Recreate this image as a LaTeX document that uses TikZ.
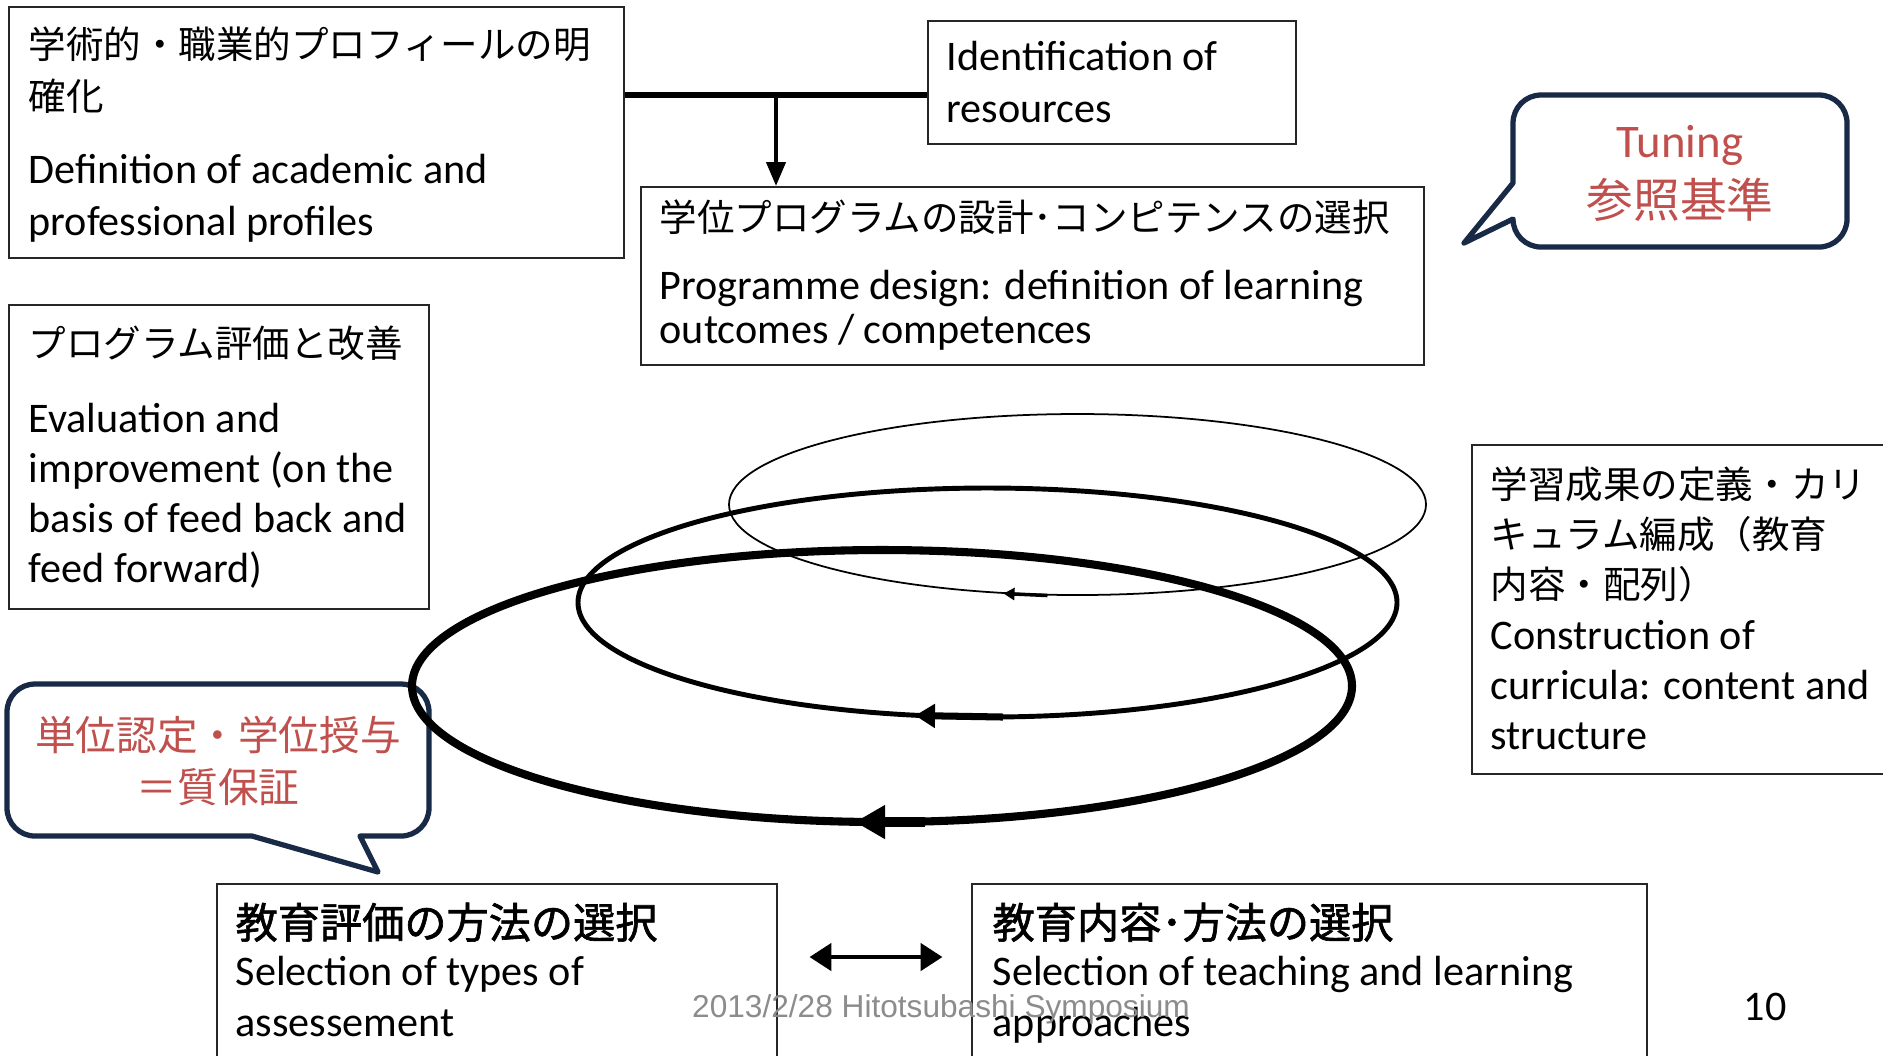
\documentclass[tikz,border=0pt]{standalone}
\usepackage{fontspec}
\setmainfont{Carlito}
\newfontfamily\jp[Scale=0.89]{Noto Sans CJK JP}
\newfontfamily\jpn[AutoFakeBold=1.5]{Noto Sans CJK JP}
\newfontfamily\footfont{Liberation Sans}
\usepackage{tikz}
\usetikzlibrary{calc,arrows.meta}

\definecolor{calloutblue}{RGB}{24,42,70}
\definecolor{calloutred}{RGB}{192,80,77}
\definecolor{footgray}{RGB}{140,140,140}

\begin{document}
\begin{tikzpicture}[>={Triangle},
  box/.style={draw=black!85,line width=0.7pt,fill=white,inner sep=0pt,anchor=north west},
  txt/.style={anchor=north west,inner sep=0pt,align=left,font=\fontsize{12}{14.8}\selectfont},
  callout/.style={draw=calloutblue,line width=1.5pt,fill=white,line join=round},
  redtxt/.style={text=calloutred,align=center,inner sep=0pt},
  ring/.style={line width=#1},
  feed/.style={line width=1.8pt},
  down/.style={line width=1.2pt,-{Triangle[length=0.24cm,width=0.19cm]}},
  pairarrow/.style={line width=1.4pt,{Triangle[length=0.22cm,width=0.27cm]}-{Triangle[length=0.22cm,width=0.27cm]}}]

	\useasboundingbox (0,0) rectangle (18.83,-10.55);
	\fill[white] (0,0) rectangle (18.83,-10.55);

	\node[box,minimum width=6.15cm,minimum height=2.51cm] (profile) at (0.08,-0.06) {};
	\node[box,minimum width=3.68cm,minimum height=1.23cm] (resources) at (9.27,-0.20) {};
	\node[box,minimum width=7.83cm,minimum height=1.78cm] (design) at (6.40,-1.86) {};
	\node[box,minimum width=4.20cm,minimum height=3.04cm] (review) at (0.08,-3.04) {};
	\node[box,minimum width=4.30cm,minimum height=3.29cm] (curricula) at (14.71,-4.44) {};
	\node[box,minimum width=5.60cm,minimum height=1.78cm] (assess) at (2.16,-8.83) {};
	\node[box,minimum width=6.75cm,minimum height=1.78cm] (teach) at (9.71,-8.83) {};

	\node[txt] (profiletxt) at ([shift={(0.20,-0.20)}]profile.north west)
		{{\jp 学術的・職業的プロフィールの明}\\{\jp 確化}\\[6pt]Definition of academic and\\professional profiles};
	\node[txt] (resourcestxt) at ([shift={(0.19,-0.20)}]resources.north west)
		{Identification of\\resources};
	\node[txt,font=\fontsize{12}{12.5}\selectfont] (designtxt) at ([shift={(0.19,-0.13)}]design.north west)
		{{\jp 学位プログラムの設計･コンピテンスの選択}\\[7pt]Programme design: definition of learning\\outcomes / competences};
	\node[txt,font=\fontsize{12}{14.3}\selectfont] (reviewtxt) at ([shift={(0.20,-0.21)}]review.north west)
		{{\jp プログラム評価と改善}\\[7pt]Evaluation and\\improvement (on the\\basis of feed back and\\feed forward)};
	\node[txt,font=\fontsize{12}{14.3}\selectfont] (curriculatxt) at ([shift={(0.19,-0.22)}]curricula.north west)
		{{\jp 学習成果の定義・カリ}\\{\jp キュラム編成（教育}\\{\jp 内容・配列）}\\Construction of\\curricula: content and\\structure};
	\node[txt,font=\fontsize{12}{14.5}\selectfont] (assesstxt) at ([shift={(0.19,-0.19)}]assess.north west)
		{{\jpn\bfseries 教育評価の方法の選択}\\[-1pt]Selection of types of\\assessement};
	\node[txt,font=\fontsize{12}{14.5}\selectfont] (teachtxt) at ([shift={(0.21,-0.19)}]teach.north west)
		{{\jpn\bfseries 教育内容･方法の選択}\\[-1pt]Selection of teaching and learning\\approaches};

	\coordinate (junction) at (7.76,-0.95);
	\draw[feed] (profile.east |- junction) -- (resources.west |- junction);
	\draw[down] (junction) -- (design.north -| junction);

	\coordinate (pairmid) at (8.75,-9.57);
	\draw[pairarrow,shorten <=0.31cm,shorten >=0.285cm] (assess.east |- pairmid) -- (teach.west |- pairmid);

	\draw[callout] (15.13,-1.83) -- (15.13,-1.23) arc[start angle=180,end angle=90,radius=0.28]
		-- (18.19,-0.95) arc[start angle=90,end angle=0,radius=0.28]
		-- (18.47,-2.19) arc[start angle=0,end angle=-90,radius=0.28]
		-- (15.41,-2.47) arc[start angle=270,end angle=180,radius=0.28]
		-- (15.13,-2.19) -- (14.64,-2.43) -- cycle;
	\node[redtxt,font=\fontsize{13.3}{17}\selectfont] (tuning) at (16.80,-1.735) {Tuning\\{\jpn 参照基準}};

	\draw[callout] (3.60,-8.36) -- (4.01,-8.36) arc[start angle=-90,end angle=0,radius=0.28]
		-- (4.29,-7.12) arc[start angle=0,end angle=90,radius=0.28]
		-- (0.35,-6.84) arc[start angle=90,end angle=180,radius=0.28]
		-- (0.07,-8.08) arc[start angle=180,end angle=270,radius=0.28]
		-- (2.52,-8.36) -- (3.78,-8.72) -- cycle;
	\node[redtxt,font=\fontsize{13}{14.8}\selectfont] (quality) at (2.18,-7.61) {{\jp 単位認定・学位授与}\\{\jp ＝質保証}};

	\coordinate (c1) at (10.775,-5.045);
	\coordinate (c2) at (9.875,-6.025);
	\coordinate (c3) at (8.82,-6.86);
	\draw[ring=0.5pt] (c1) ellipse (3.485cm and 0.905cm);
	\draw[ring=1.4pt] (c2) ellipse (4.095cm and 1.145cm);
	\draw[ring=2.3pt] (c3) ellipse (4.70cm and 1.36cm);
	\draw[line width=1pt,-{Triangle[length=0.11cm,width=0.12cm]}] ($(c1)+(-0.30,-0.91)$) -- ($(c1)+(-0.74,-0.89)$);
	\draw[line width=2pt,-{Triangle[length=0.20cm,width=0.23cm]}] ($(c2)+(0.155,-1.145)$) -- ($(c2)+(-0.725,-1.13)$);
	\draw[line width=3pt,-{Triangle[length=0.30cm,width=0.32cm]}] ($(c3)+(0.43,-1.36)$) -- ($(c3)+(-0.27,-1.36)$);

	\node[font=\footfont\fontsize{9}{10}\selectfont,text=footgray] (footer) at (9.41,-10.095) {2013/2/28 Hitotsubashi Symposium};
	\node[font=\fontsize{12}{14}\selectfont] (pageno) at (17.65,-10.07) {10};
\end{tikzpicture}
\end{document}
